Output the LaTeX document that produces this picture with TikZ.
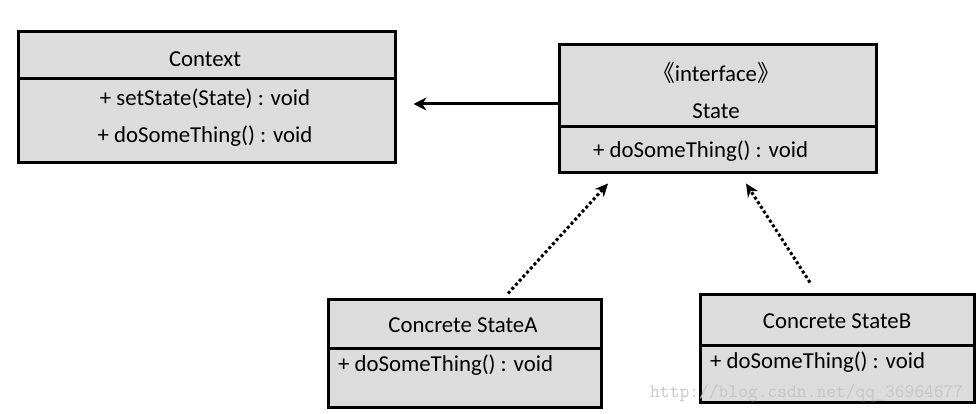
\documentclass[tikz,border=0pt]{standalone}
\usepackage{fontspec}
\setmainfont{Carlito}
\newfontfamily\cjk{Noto Sans CJK SC}
\usepackage{tikz}
\usetikzlibrary{arrows.meta}
\definecolor{boxgray}{RGB}{220,220,220}

\begin{document}
\begin{tikzpicture}[x=1pt,y=-1pt,
			every node/.style = {inner sep=0pt,
				font=\fontsize{22.8}{26}\selectfont},
			classbox/.style = {shape=rectangle, draw,
				line width=3pt, fill=boxgray},
			assoc/.style = {line width=3pt,
				-{Stealth[length=13pt,width=13pt]}},
			realize/.style = {line width=3pt,
				dash pattern=on 3pt off 2.5pt,
				-{Stealth[length=13pt,width=12pt]}},
			watermark/.style = {text=gray!45,
				font=\ttfamily\fontsize{19}{22}\selectfont}]
			\useasboundingbox (0,0) rectangle (980,414);
			% Context
			\node[classbox, minimum width=377pt, minimum height=47pt] (ctxhead) at (206.5,55.5) {};
			\node[classbox, minimum width=377pt, minimum height=84pt] (ctxbody) at (206.5,121) {};
			\node (ctxname) at (205,59) {Context};
			\node (ctxop1) at (205,99) {+ setState(State) : void};
			\node (ctxop2) at (205,136) {+ doSomeThing() : void};
			% State
			\node[classbox, minimum width=317pt, minimum height=82pt] (statehead) at (717.5,86) {};
			\node[classbox, minimum width=317pt, minimum height=46pt] (statebody) at (717.5,150) {};
			\node (stereo) at (716,73) {{\cjk 《}interface{\cjk 》}};
			\node (statename) at (716,111) {State};
			\node[anchor=west] (stateop) at (593,151) {+ doSomeThing() : void};
			% Concrete StateA
			\node[classbox, minimum width=273pt, minimum height=49pt] (ahead) at (464.5,323.5) {};
			\node[classbox, minimum width=273pt, minimum height=59pt] (abody) at (464.5,377.5) {};
			\node (aname) at (463,325) {Concrete StateA};
			\node[anchor=west] (aop) at (338,365) {+ doSomeThing() : void};
			% Concrete StateB
			\node[classbox, minimum width=274pt, minimum height=51pt] (bhead) at (837,319.5) {};
			\node[classbox, minimum width=274pt, minimum height=57pt] (bbody) at (837,373.5) {};
			\node (bname) at (837,321) {Concrete StateB};
			\node[anchor=west] (bop) at (710,362) {+ doSomeThing() : void};
			% connectors
			\coordinate (row) at (0,104);
			\draw[assoc, shorten >=17pt] (statehead.west |- row) -- (ctxbody.east |- row);
			\draw[realize] ([xshift=43.5pt,yshift=4pt]ahead.north) -- ([xshift=-109.5pt,yshift=-9pt]statebody.south);
			\draw[realize] ([xshift=-27pt,yshift=10pt]bhead.north) -- ([xshift=28.5pt,yshift=-9pt]statebody.south);
			\node[watermark, anchor=west] (wm) at (650,393) {http://blog.csdn.net/qq\_36964677};
		\end{tikzpicture}
\end{document}
